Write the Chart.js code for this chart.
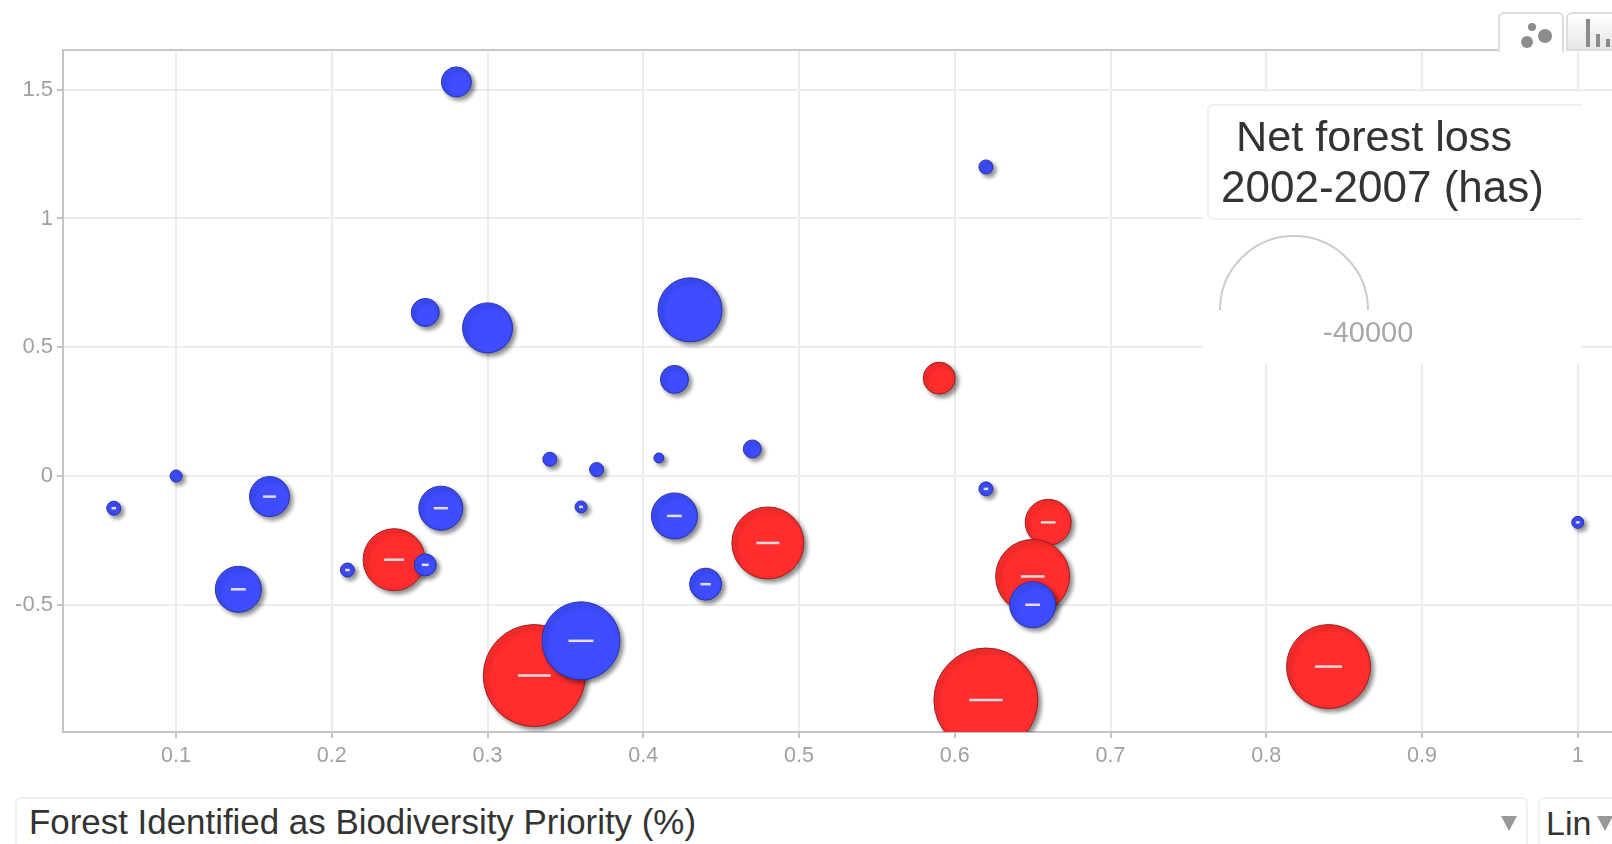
<!DOCTYPE html>
<html>
<head>
<meta charset="utf-8">
<title>Net forest loss</title>
<script src="https://cdn.jsdelivr.net/npm/chart.js@4"></script>
<style>
    html, body { margin: 0; padding: 0; background: #fff; overflow: hidden; }
    body { width: 1612px; height: 844px; position: relative; font-family: "Liberation Sans", Arial, sans-serif; filter: blur(0.5px); }
    canvas { position: absolute; left: 0; top: 0; }
    .abs { position: absolute; }
    /* linea superior del grafico y pestanas */
    #topLine { left: 63px; top: 49px; width: 1436px; height: 2px; background: #c9c9c9; }
    #tab1 { left: 1498px; top: 12px; width: 66px; height: 40px; background: #fff; border: 2px solid #ddd; border-bottom: 0; border-radius: 6px 6px 0 0; box-sizing: border-box; }
    #tab2 { left: 1566px; top: 12px; width: 60px; height: 39px; background: linear-gradient(#fff, #e6e6e6); border: 2px solid #ddd; border-radius: 6px 6px 0 0; box-sizing: border-box; }
    .dot { position: absolute; background: #8c8c8c; border-radius: 50%; }
    .bar { position: absolute; background: #8c8c8c; width: 4px; }
    /* panel de la leyenda de tamano */
    #panel { left: 1203px; top: 92px; width: 379px; height: 271px; background: #fff; }
    #titleBox { left: 1207px; top: 104px; width: 400px; height: 116px; border: 2px solid #f0f0f0; border-right: 0; border-radius: 6px 0 0 6px; box-sizing: border-box; }
    #panelCut { left: 1582px; top: 100px; width: 30px; height: 125px; background: #fff; }
    .legendTxt { color: #333; line-height: 50px; white-space: nowrap; }
    #arcWrap { left: 1219px; top: 235px; width: 150px; height: 75px; overflow: hidden; }
    #arc { width: 150px; height: 150px; border: 2px solid #ccc; border-radius: 50%; box-sizing: border-box; }
    #sizeLbl { left: 1323px; top: 316px; color: #a8a8a8; font-size: 29px; white-space: nowrap; }
    /* selector del eje */
    .sel { top: 797px; height: 60px; background: #fff; border: 2px solid #f0f0f0; border-radius: 6px; box-sizing: border-box; }
    .selTxt { color: #333; white-space: nowrap; }
    .tri { width: 0; height: 0; border-left: 8px solid transparent; border-right: 8px solid transparent; border-top: 15px solid #999; }
</style>
</head>
<body>
<canvas id="grafico" width="1612" height="844"></canvas>

<div class="abs" id="topLine"></div>
<div class="abs" id="tab2">
    <div class="bar" style="left:18px;top:5px;height:28px"></div>
    <div class="bar" style="left:28px;top:20px;height:13px"></div>
    <div class="bar" style="left:38px;top:25px;height:8px"></div>
</div>
<div class="abs" id="tab1">
    <div class="dot" style="left:38px;top:15px;width:14px;height:14px"></div>
    <div class="dot" style="left:21px;top:22px;width:12px;height:12px"></div>
    <div class="dot" style="left:28px;top:9px;width:8px;height:8px"></div>
</div>

<div class="abs" id="panel"></div>
<div class="abs" id="titleBox"></div>
<div class="abs" id="panelCut"></div>
<div class="abs legendTxt" style="left:1236px;top:111px;font-size:43.2px">Net forest loss</div>
<div class="abs legendTxt" style="left:1221px;top:162px;font-size:44px">2002-2007 (has)</div>
<div class="abs" id="arcWrap"><div id="arc"></div></div>
<div class="abs" id="sizeLbl">-40000</div>

<div class="abs sel" style="left:15px;width:1513px"></div>
<div class="abs selTxt" style="left:29px;top:802px;font-size:34.9px">Forest Identified as Biodiversity Priority (%)</div>
<div class="abs tri" style="left:1501px;top:816px"></div>
<div class="abs sel" style="left:1538px;width:90px"></div>
<div class="abs selTxt" style="left:1546px;top:804px;font-size:34px">Lin</div>
<div class="abs tri" style="left:1597px;top:816px"></div>

<script>
const xTicks = [0.1, 0.2, 0.3, 0.4, 0.5, 0.6, 0.7, 0.8, 0.9, 1];
const yTicks = [-0.5, 0, 0.5, 1, 1.5];

const redX = [0.59, 0.66, 0.48, 0.24, 0.65, 0.33, 0.62, 0.84];
const redY = [0.38, -0.18, -0.26, -0.325, -0.39, -0.775, -0.87, -0.74];
const redR = [16, 23, 36, 31, 37, 51, 52, 42];

const blueX = [0.28, 0.62, 0.26, 0.30, 0.43, 0.42, 0.34, 0.37, 0.41, 0.47, 0.10, 0.06,
    0.16, 0.27, 0.36, 0.42, 0.62, 1.0, 0.21, 0.26, 0.14, 0.44, 0.65, 0.36];
const blueY = [1.53, 1.2, 0.635, 0.575, 0.645, 0.375, 0.065, 0.025, 0.07, 0.105, 0, -0.125,
    -0.08, -0.125, -0.12, -0.155, -0.05, -0.18, -0.365, -0.345, -0.44, -0.42, -0.5, -0.64];
const blueR = [15, 7, 14, 25, 32, 14, 7, 7, 5, 9, 6, 7,
    20, 22, 6, 23, 7, 6, 7, 11, 23, 16, 23, 39];

function puntos(xs, ys, rs) {
    return xs.map((x, i) => ({ x, y: ys[i], r: rs[i] }));
}

// los valores negativos llevan un guion blanco en el centro de la burbuja
function guiones(xs, ys, rs) {
    return puntos(xs, ys, rs).filter(p => p.y < 0).map(p => ({ x: p.x, y: p.y, r: Math.max(1.5, p.r * 0.32) }));
}

// sombra abajo a la derecha, solo para las burbujas
const sombra = {
    id: 'sombra',
    beforeDatasetDraw(chart, args) {
        if (args.index > 1) return;
        const ctx = chart.ctx;
        ctx.save();
        ctx.shadowColor = 'rgba(0,0,0,0.45)';
        ctx.shadowBlur = 4;
        ctx.shadowOffsetX = 3;
        ctx.shadowOffsetY = 3;
    },
    afterDatasetDraw(chart, args) {
        if (args.index > 1) return;
        chart.ctx.restore();
    }
};

const ctx = document.getElementById('grafico').getContext('2d');

new Chart(ctx, {
    type: 'bubble',
    data: {
        datasets: [
            {
                label: 'Red',
                data: puntos(redX, redY, redR),
                backgroundColor: '#ff2d2d',
                borderColor: '#9c2020',
                borderWidth: 1,
                clip: 0,
                order: 2,
            },
            {
                label: 'Blue',
                data: puntos(blueX, blueY, blueR),
                backgroundColor: '#3d4dff',
                borderColor: '#2733a8',
                borderWidth: 1,
                clip: 0,
                order: 1,
            },
            {
                label: 'Negative',
                data: guiones(redX, redY, redR).concat(guiones(blueX, blueY, blueR)),
                pointStyle: 'line',
                backgroundColor: '#e8dcdc',
                borderColor: '#e8dcdc',
                borderWidth: 2.5,
                clip: 0,
                order: 0,
            },
        ]
    },
    options: {
        responsive: false,
        animation: false,
        layout: { autoPadding: false, padding: { top: 50, left: 0, right: 0, bottom: 0 } },
        plugins: { legend: { display: false }, tooltip: { enabled: false } },
        scales: {
            x: {
                type: 'linear',
                min: 0.0274,
                max: 1.022,
                afterBuildTicks: s => { s.ticks = xTicks.map(value => ({ value })); },
                afterFit: s => { s.height = 112; s.paddingLeft = 0; s.paddingRight = 0; },
                border: { color: '#c4c4c4', width: 2 },
                grid: { color: '#ececec', lineWidth: 2, tickColor: '#c4c4c4', tickLength: 6 },
                ticks: {
                    color: '#a0a0a0',
                    font: { family: 'Liberation Sans', size: 21.5 },
                    padding: 5,
                    maxRotation: 0,
                    autoSkip: false,
                    callback: v => String(v),
                },
            },
            y: {
                type: 'linear',
                min: -0.994,
                max: 1.654,
                afterBuildTicks: s => { s.ticks = yTicks.map(value => ({ value })); },
                afterFit: s => { s.width = 63; s.paddingTop = 0; s.paddingBottom = 0; },
                border: { color: '#c4c4c4', width: 2 },
                grid: { color: '#ececec', lineWidth: 2, tickColor: '#c4c4c4', tickLength: 6 },
                ticks: {
                    color: '#a0a0a0',
                    font: { family: 'Liberation Sans', size: 22 },
                    padding: 4,
                    autoSkip: false,
                    callback: v => String(v),
                },
            },
        },
    },
    plugins: [sombra],
});
</script>
</body>
</html>
